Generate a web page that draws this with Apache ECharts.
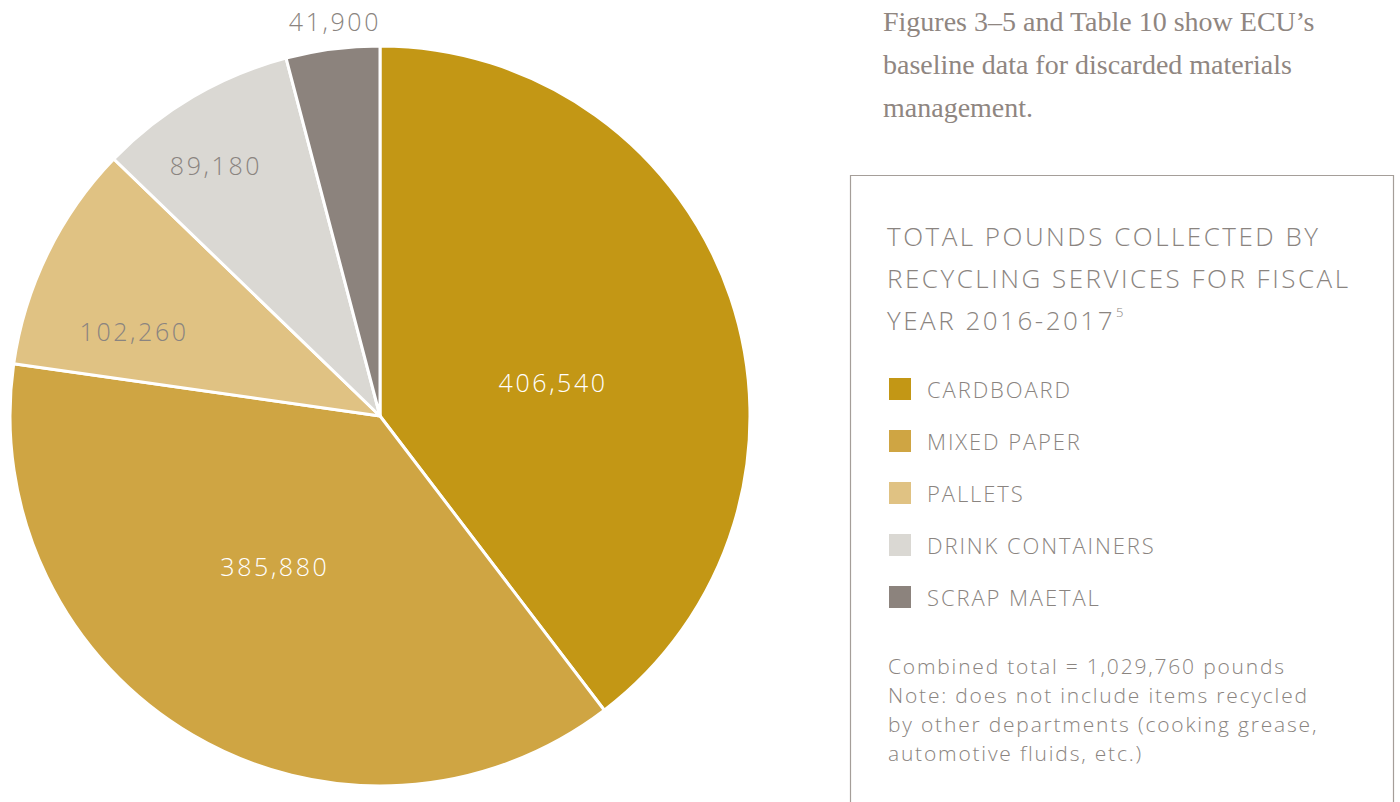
<!DOCTYPE html>
<html><head><meta charset="utf-8">
<script src="https://cdn.jsdelivr.net/npm/echarts@6/dist/echarts.min.js"></script>
<style>html,body{margin:0;padding:0;background:#fff}#c{width:1400px;height:802px}</style>
</head><body><div id="c"></div>
<script>
const categories = ['CARDBOARD', 'MIXED PAPER', 'PALLETS', 'DRINK CONTAINERS', 'SCRAP MAETAL'];
const values = [406540, 385880, 102260, 89180, 41900];
const colors = ['#C39715', '#CFA543', '#E0C283', '#DAD8D3', '#8C837D'];
const labelColors = ['#ffffff', '#ffffff', '#8a8480', '#8a8480', '#8a8480'];
const labelOffsets = [[-5, 26], [-10, -12], [-77, -2], [-69, -89], [-21, -209]];
const introLines = ['Figures 3\u20135 and Table 10 show ECU\u2019s', 'baseline data for discarded materials', 'management.'];
const titleLines = ['TOTAL POUNDS COLLECTED BY', 'RECYCLING SERVICES FOR FISCAL', 'YEAR 2016-2017'];
const titleNote = '5';
const noteLines = ['Combined total = 1,029,760 pounds', 'Note: does not include items recycled', 'by other departments (cooking grease,', 'automotive fluids, etc.)'];

const gray = '#8a8480';
const sans = '"Open Sans", Lato, sans-serif';
const fmt = v => v.toLocaleString('en-US');
const chart = echarts.init(document.getElementById('c'), null, { renderer: 'svg' });
const data = categories.map((n, i) => ({
  name: n, value: values[i],
  itemStyle: { color: colors[i] },
  label: { color: labelColors[i], offset: labelOffsets[i] }
}));
const graphics = [];
introLines.forEach((t, i) => graphics.push({
  type: 'text', left: 883, top: 7 + i * 43,
  style: { text: t, fill: '#8f8681', font: '28px "Liberation Serif", "DejaVu Serif", serif' }
}));
graphics.push({
  type: 'rect', shape: { x: 850.5, y: 175.5, width: 543, height: 700 },
  style: { fill: 'none', stroke: '#a59e99', lineWidth: 1.2 }
});
titleLines.forEach((t, i) => graphics.push({
  type: 'text', left: 887, top: 223 + i * 42,
  style: { text: t, fill: gray, font: '300 26px ' + sans }
}));
graphics.push({
  type: 'text', left: 1310, top: 305,
  style: { text: titleNote, fill: gray, font: '300 13px ' + sans }
});
noteLines.forEach((t, i) => graphics.push({
  type: 'text', left: 888, top: 655 + i * 29,
  style: { text: t, fill: gray, font: '300 21px ' + sans }
}));

chart.setOption({
  animation: false,
  graphic: graphics,
  legend: {
    orient: 'vertical', left: 882, top: 371,
    itemWidth: 24, itemHeight: 24, itemGap: 26, icon: 'rect',
    data: categories,
    textStyle: { color: gray, fontSize: 22, fontWeight: 300, fontFamily: sans, padding: [0, 0, 0, 10] },
    selectedMode: false
  },
  series: [{
    type: 'pie', center: [380, 416], radius: [0, 370],
    startAngle: 90, clockwise: true, avoidLabelOverlap: false,
    itemStyle: { borderColor: '#fff', borderWidth: 3 },
    label: {
      show: true, position: 'inside', fontSize: 25, fontWeight: 300, fontFamily: sans,
      formatter: p => fmt(p.value)
    },
    labelLine: { show: false },
    emphasis: { disabled: true },
    data: data
  }]
});

// letter tracking like the original typeface
const spacing = new Map();
titleLines.forEach(t => spacing.set(t, '2.5px'));
categories.forEach(t => spacing.set(t, '1.9px'));
noteLines.forEach(t => spacing.set(t, '1.8px'));
values.forEach(v => spacing.set(fmt(v), '2.6px'));
function track() {
  const svg = document.querySelector('#c svg');
  if (!svg) return;
  svg.querySelectorAll('text').forEach(el => {
    const s = spacing.get(el.textContent);
    if (s) el.style.letterSpacing = s;
  });
  const texts = Array.from(svg.querySelectorAll('text'));
  const third = texts.find(el => el.textContent === titleLines[2]);
  const sup = texts.find(el => el.textContent === titleNote);
  if (third && sup && !sup.dataset.moved) {
    const bb = third.getBBox();
    const tr = third.getCTM();
    const sx = tr ? tr.e + bb.x + bb.width : 0;
    const cur = sup.getCTM();
    if (cur) {
      sup.setAttribute('transform', 'translate(' + (sx + 1 - cur.e) + ',0) ' + (sup.getAttribute('transform') || ''));
      sup.dataset.moved = '1';
    }
  }
}
chart.getZr().refreshImmediately();
track();
chart.on('finished', track);
</script></body></html>
